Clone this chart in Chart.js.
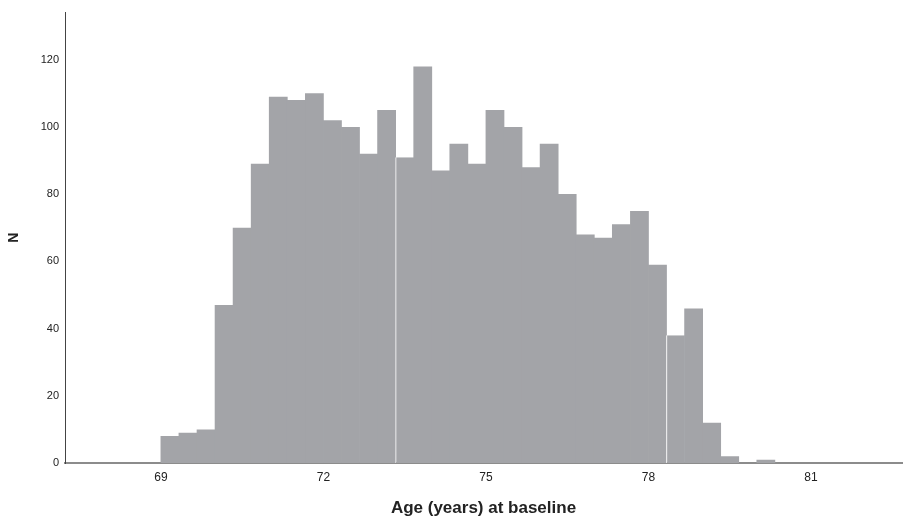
<!DOCTYPE html>
<html>
<head>
<meta charset="utf-8">
<script src="https://cdn.jsdelivr.net/npm/chart.js@4/dist/chart.umd.min.js"></script>
<style>
  html, body { margin: 0; padding: 0; background: #fff; }
  #ageChart { display: block; }
</style>
</head>
<body>
<canvas id="ageChart" width="906" height="525"></canvas>
<script>
// histogram bins: 4-month bins starting at 69 years
var binStarts = [69.0, 69.333, 69.667, 70.0, 70.333, 70.667, 71.0, 71.333, 71.667,
                 72.0, 72.333, 72.667, 73.0, 73.333, 73.667, 74.0, 74.333, 74.667,
                 75.0, 75.333, 75.667, 76.0, 76.333, 76.667, 77.0, 77.333, 77.667,
                 78.0, 78.333, 78.667, 79.0, 79.333, 79.667, 80.0];
var counts = [8, 9, 10, 47, 70, 89, 109, 108, 110,
              102, 100, 92, 105, 91, 118, 87, 95, 89,
              105, 100, 88, 95, 80, 68, 67, 71, 75,
              59, 38, 46, 12, 2, 0, 1];
var binWidth = 1 / 3;
var xTicks = [69, 72, 75, 78, 81];
var yTicks = [0, 20, 40, 60, 80, 100, 120];

// thin white seams seen between a couple of bins
var seamBins = [13, 28];

var points = binStarts.map(function(s, i) {
    return { x: s + binWidth / 2, y: counts[i] };
});

var font = 'Liberation Sans, Arial, Helvetica, sans-serif';

new Chart(document.getElementById('ageChart'), {
    type: 'bar',
    data: {
        datasets: [{
            data: points,
            backgroundColor: '#a3a4a8',
            borderColor: '#ffffff',
            borderWidth: function(ctx) {
                return seamBins.indexOf(ctx.dataIndex) >= 0 ? { left: 1, top: 0, right: 0, bottom: 0 } : 0;
            },
            borderSkipped: false,
            // slight overlap so neighbouring bars leave no anti-aliased gaps
            barPercentage: 1.04,
            categoryPercentage: 1.0
        }]
    },
    options: {
        responsive: false,
        animation: false,
        layout: { padding: { top: 10, right: 4, left: 0, bottom: 0 } },
        plugins: {
            legend: { display: false },
            tooltip: { enabled: false }
        },
        scales: {
            x: {
                type: 'linear',
                offset: false,
                min: 67.23,
                max: 82.68,
                afterBuildTicks: function(axis) {
                    axis.ticks = xTicks.map(function(v) { return { value: v }; });
                },
                afterFit: function(axis) { axis.height = 62; },
                grid: { display: false, drawTicks: false },
                border: { display: true, color: '#8c8c8c', width: 2 },
                ticks: {
                    padding: 7,
                    color: '#222',
                    font: { family: font, size: 12 },
                    maxRotation: 0
                },
                title: {
                    display: true,
                    text: 'Age (years) at baseline',
                    color: '#222',
                    font: { family: font, size: 17, weight: 'bold' },
                    padding: { top: 0, bottom: 6 }
                }
            },
            y: {
                min: 0,
                max: 134,
                afterBuildTicks: function(axis) {
                    axis.ticks = yTicks.map(function(v) { return { value: v }; });
                },
                afterFit: function(axis) { axis.width = 65; },
                grid: { display: false, drawTicks: false },
                border: { display: true, color: '#444', width: 1 },
                ticks: {
                    padding: 6,
                    color: '#222',
                    font: { family: font, size: 11 }
                },
                title: {
                    display: true,
                    text: 'N',
                    color: '#222',
                    font: { family: font, size: 14, weight: 'bold' },
                    padding: { top: 6, bottom: 0 }
                }
            }
        }
    }
});
</script>
</body>
</html>
